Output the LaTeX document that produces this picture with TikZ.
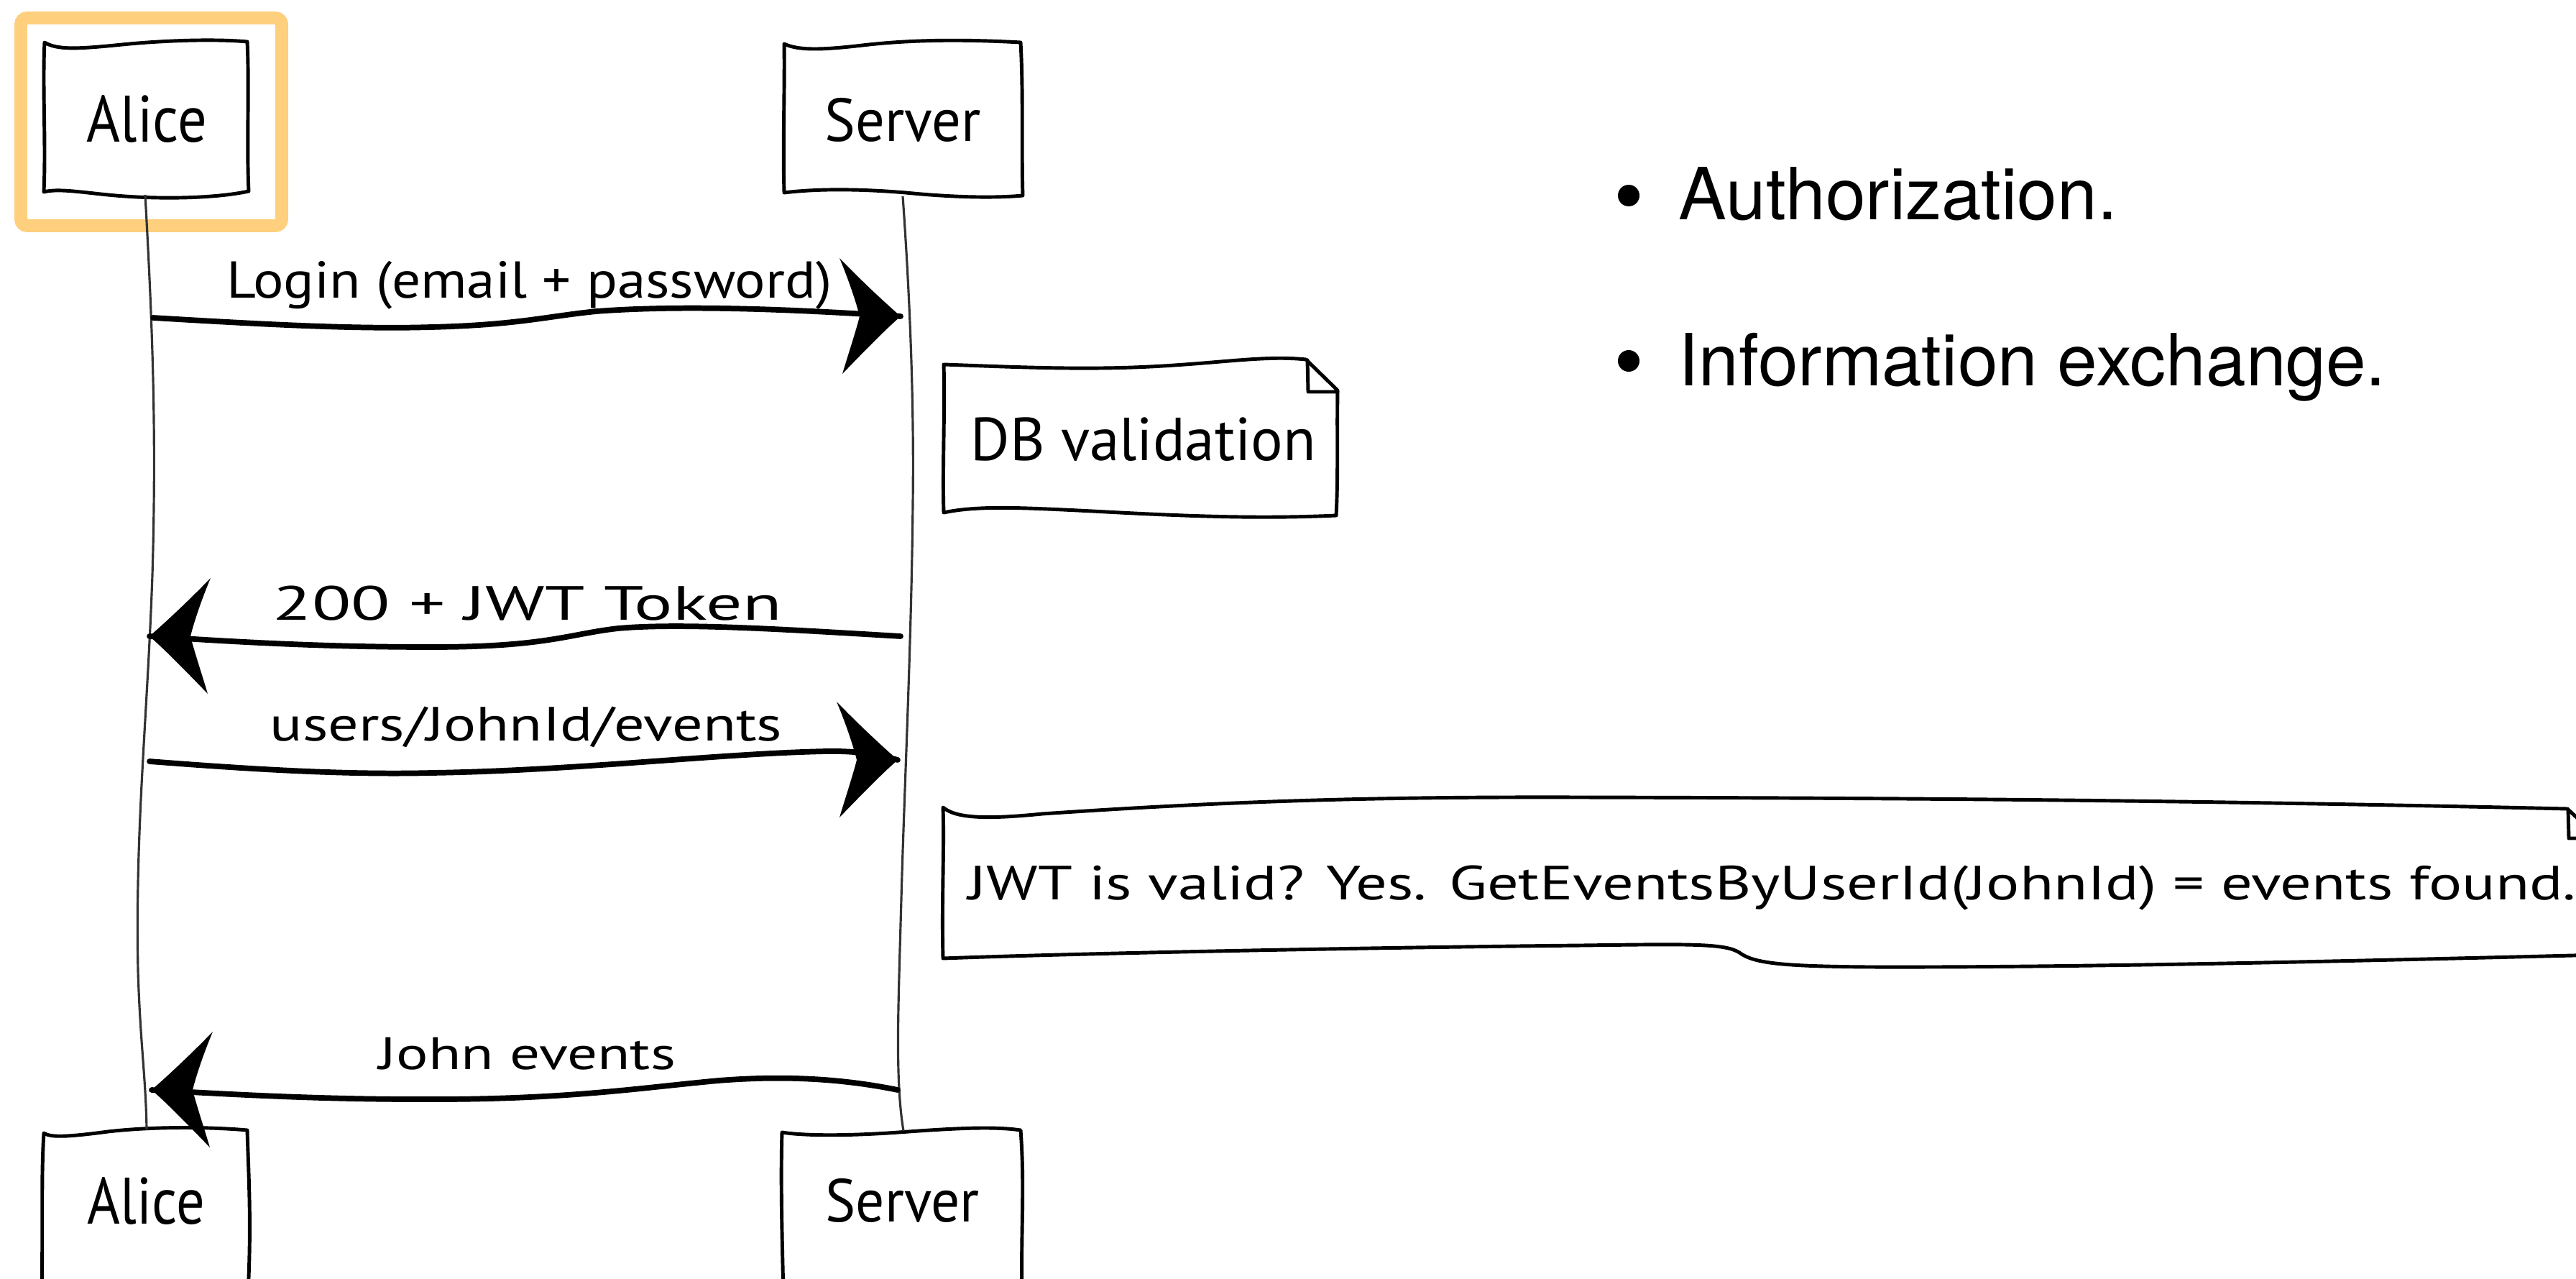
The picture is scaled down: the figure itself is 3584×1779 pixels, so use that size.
\documentclass[tikz,border=0pt]{standalone}
\usepackage{fontspec}
\usepackage{graphicx}
\setmainfont{PT Sans}
\newfontfamily\keyfont{TeX Gyre Heros}
\definecolor{hilite}{RGB}{254,207,125}
% fit a label to a given width, keeping the height of its font size
\newcommand\fitlabel[3]{{\fontsize{#1}{#1}\selectfont\resizebox{#2}{\height}{#3}}}
\begin{document}
\begin{tikzpicture}[x=0.01cm,y=-0.01cm,
  boxline/.style={line width=1.4pt, line join=round, line cap=round},
  lifeline/.style={line width=0.9pt, black!80},
  msg/.style={line width=2.2pt, line cap=round},
  hand/.style={inner sep=0pt, anchor=base west},
  keytext/.style={inner sep=0pt, anchor=base west, font=\keyfont\fontsize{28.45pt}{34pt}\selectfont},
  bul/.style={circle, fill=black, inner sep=0pt, minimum size=3mm},
  pics/headR/.style={code={
    \fill (0,0) .. controls (-25,-22) and (-55,-50) .. (-85,-81)
      .. controls (-72,-50) and (-62,-20) .. (-57,0)
      .. controls (-62,20) and (-72,50) .. (-81,80)
      .. controls (-52,50) and (-25,22) .. (0,0) -- cycle;}}
]
\useasboundingbox (0,0) rectangle (3584,1779);
\fill[white] (0,0) rectangle (3584,1779);
\clip (0,0) rectangle (3584,1779);

% highlight frame around the first participant
\draw[hilite, line width=5.1pt, rounded corners=0.9mm] (29,25) rectangle (392,314);

% participant boxes (top)
\draw[boxline] (62,59) .. controls (80,70) and (110,68) .. (170,62) .. controls (230,56) and (300,54) .. (344,58)
  .. controls (347,120) and (343,200) .. (346,266)
  .. controls (300,276) and (220,278) .. (150,271) .. controls (110,267) and (80,262) .. (61,267)
  .. controls (64,200) and (59,120) .. (62,59) -- cycle;
\draw[boxline] (1091,61) .. controls (1110,70) and (1140,70) .. (1200,63) .. controls (1260,56) and (1330,54) .. (1420,59)
  .. controls (1424,130) and (1421,210) .. (1423,272)
  .. controls (1380,276) and (1320,274) .. (1260,268) .. controls (1200,263) and (1140,262) .. (1091,268)
  .. controls (1089,200) and (1092,120) .. (1091,61) -- cycle;

% participant boxes (bottom)
\draw[boxline] (61,1576) .. controls (70,1582) and (90,1582) .. (150,1574) .. controls (220,1566) and (300,1568) .. (344,1572)
  .. controls (346,1640) and (350,1700) .. (345,1800) -- (58,1800)
  .. controls (60,1700) and (57,1640) .. (61,1576) -- cycle;
\draw[boxline] (1088,1575) .. controls (1120,1580) and (1180,1580) .. (1250,1575) .. controls (1320,1570) and (1380,1566) .. (1420,1572)
  .. controls (1426,1650) and (1420,1720) .. (1422,1800) -- (1090,1800)
  .. controls (1088,1720) and (1086,1640) .. (1088,1575) -- cycle;

% participant names
\node[hand] (aliceTop)  at (120,198)  {\fitlabel{26pt}{16.7mm}{Alice}};
\node[hand] (serverTop) at (1147,197) {\fitlabel{24pt}{21.7mm}{Server}};
\node[hand] (aliceBot)  at (121,1702) {\fitlabel{26pt}{16.3mm}{Alice}};
\node[hand] (serverBot) at (1148,1699) {\fitlabel{24pt}{21.4mm}{Server}};

% lifelines
\coordinate (aTop) at (202,271);  \coordinate (aBot) at (204,1571);
\coordinate (sTop) at (1256,273); \coordinate (sBot) at (1257,1573);
\draw[lifeline] (aTop) .. controls (212,450) and (218,600) .. (212,800)
  .. controls (205,1000) and (188,1150) .. (192,1350)
  .. controls (195,1450) and (203,1500) .. (aBot);
\draw[lifeline] (sTop) .. controls (1265,400) and (1272,550) .. (1270,700)
  .. controls (1268,900) and (1258,1100) .. (1254,1250)
  .. controls (1250,1400) and (1245,1500) .. (sBot);

% notes
\draw[boxline] (1313,507) .. controls (1400,510) and (1500,515) .. (1600,510) .. controls (1700,505) and (1760,494) .. (1817,500)
  -- (1861,543) .. controls (1860,600) and (1862,660) .. (1859,717)
  .. controls (1750,722) and (1650,718) .. (1520,711) .. controls (1420,706) and (1360,703) .. (1313,713)
  .. controls (1311,650) and (1315,570) .. (1313,507) -- cycle;
\draw[boxline] (1819,501) -- (1820,545) -- (1861,545);
\node[hand] (noteDB) at (1350,640) {\fitlabel{24pt}{48mm}{DB validation}};

\draw[boxline] (1312,1123) .. controls (1330,1138) and (1370,1140) .. (1450,1132)
  .. controls (1700,1115) and (1900,1108) .. (2200,1109)
  .. controls (2600,1110) and (3000,1112) .. (3572,1125) -- (3620,1170) -- (3620,1328)
  .. controls (3300,1336) and (2900,1346) .. (2600,1345)
  .. controls (2480,1344) and (2440,1340) .. (2420,1325)
  .. controls (2400,1312) and (2350,1313) .. (2200,1315)
  .. controls (1900,1318) and (1500,1326) .. (1312,1333)
  .. controls (1310,1250) and (1314,1180) .. (1312,1123) -- cycle;
\draw[boxline] (3573,1126) -- (3574,1166) -- (3620,1166);
\node[hand] (noteJWT) at (1347,1251) {\fitlabel{19pt}{223.5mm}{JWT is valid? Yes. GetEventsByUserId(JohnId) = events found.}};

% messages
\coordinate (m1a) at (213,442);  \coordinate (m1s) at (1253,440);
\coordinate (m2s) at (1253,885); \coordinate (m2a) at (208,885);
\coordinate (m3a) at (208,1059); \coordinate (m3s) at (1249,1057);
\coordinate (m4s) at (1249,1516); \coordinate (m4a) at (211,1516);

\draw[msg] (m1a) .. controls (380,452) and (500,458) .. (600,455)
  .. controls (720,452) and (760,440) .. (830,433)
  .. controls (950,424) and (1100,430) .. (m1s);
\pic at (m1s) {headR};
\node[hand] (lblLogin) at (315,414) {\fitlabel{20.5pt}{84.1mm}{Login (email + password)}};

\draw[msg] (m2s) .. controls (1100,876) and (950,866) .. (860,874)
  .. controls (790,882) and (760,900) .. (600,900)
  .. controls (450,900) and (330,893) .. (m2a);
\pic[xscale=-1] at (m2a) {headR};
\node[hand] (lblTok) at (379,862) {\fitlabel{19pt}{70.8mm}{200 + JWT Token}};

\draw[msg] (m3a) .. controls (350,1070) and (480,1078) .. (600,1075)
  .. controls (800,1072) and (1000,1048) .. (1150,1045)
  .. controls (1200,1044) and (1230,1052) .. (m3s);
\pic at (m3s) {headR};
\node[hand] (lblReq) at (375,1030) {\fitlabel{19pt}{71.2mm}{users/JohnId/events}};

\draw[msg] (m4s) .. controls (1180,1502) and (1100,1495) .. (1000,1503)
  .. controls (900,1512) and (800,1528) .. (620,1529)
  .. controls (450,1530) and (320,1522) .. (m4a);
\pic[xscale=-1] at (m4a) {headR};
\node[hand] (lblResp) at (527,1487) {\fitlabel{18pt}{41.2mm}{John events}};

% bullet list
\node[bul] (b1) at (2266,272) {};
\node[keytext] (t1) at (2335,306) {Authorization.};
\node[bul] (b2) at (2266,502) {};
\node[keytext] (t2) at (2335,536) {Information exchange.};
\end{tikzpicture}
\end{document}
